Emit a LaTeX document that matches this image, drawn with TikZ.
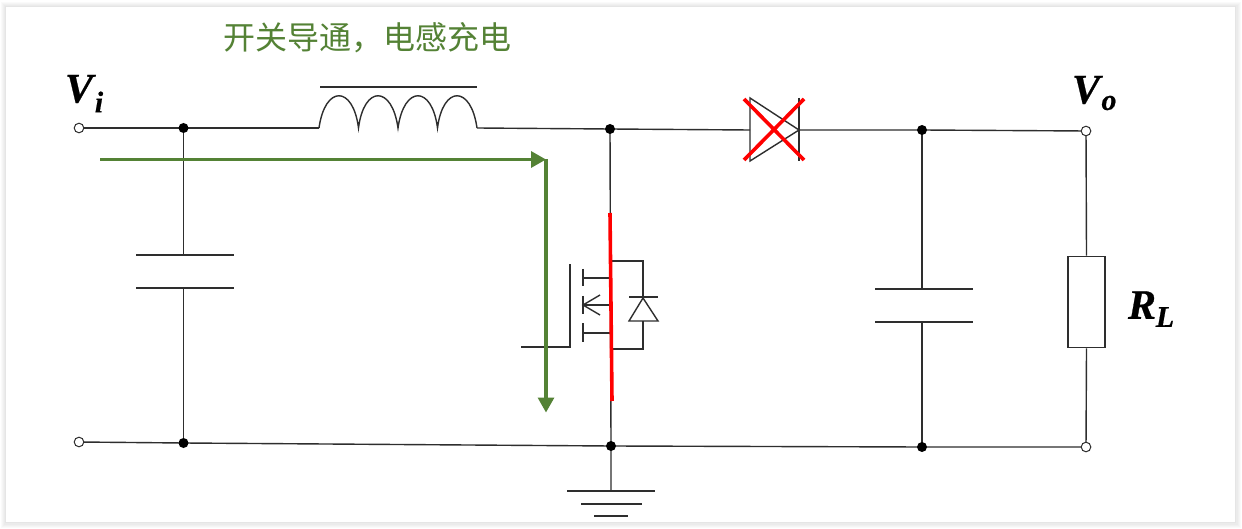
\documentclass[tikz,border=0pt]{standalone}
\usepackage{fontspec}
\setmainfont{Liberation Serif}[BoldItalicFeatures={FakeBold=0.6}]
\newfontfamily\cjkfont{Noto Sans CJK SC}
\usetikzlibrary{arrows.meta}
\definecolor{wire}{HTML}{2E2E2E}
\definecolor{pathgreen}{HTML}{548235}
\definecolor{crossred}{HTML}{FF0000}
\tikzset{
  wireline/.style={draw=wire,line width=0.7pt,line join=miter},
  dotnode/.style={circle,fill=black,inner sep=0pt,minimum size=5pt},
  termnode/.style={circle,draw=wire,fill=white,line width=0.5pt,inner sep=0pt,minimum size=4.8pt},
  platewire/.style={draw=wire,line width=0.75pt},
  redline/.style={draw=crossred,line width=1.8pt},
  greenarrow/.style={draw=pathgreen,line width=1.6pt,-{Triangle[length=7.5pt,width=8pt]}},
  symbolname/.style={font=\bfseries\itshape\fontsize{21}{21}\selectfont,text=black,inner sep=0pt},
  subname/.style={font=\bfseries\itshape\fontsize{15}{15}\selectfont,text=black,inner sep=0pt},
}
\begin{document}
\begin{tikzpicture}[x=0.5pt,y=-0.5pt]
\useasboundingbox (0,0) rectangle (1242,529);
\fill[white] (0,0) rectangle (1242,529);
% soft shadow around the white sheet
\fill[gray!4] (1,2) rectangle (1241,528);
\fill[gray!8] (2,3) rectangle (1240,527);
\fill[gray!12] (3,4) rectangle (1239,526);
\fill[gray!16] (4,5) rectangle (1238,525);
\fill[gray!20] (5,6) rectangle (1236,523);
\fill[white] (6,7) rectangle (1235,522);

% labels
\node[font=\cjkfont\fontsize{16}{16}\selectfont,text=pathgreen,inner sep=0pt] (title) at (367,38) {开关导通，电感充电};
\node[symbolname] (vi) at (79,89) {V};
\node[subname] (visub) at (99,102) {i};
\node[symbolname] (vo) at (1086,90) {V};
\node[subname] (vosub) at (1109,103) {o};
\node[symbolname] (rl) at (1142,305) {R};
\node[subname] (rlsub) at (1165,317) {L};

% junctions and terminals
\coordinate (vin) at (79,128);
\coordinate (vij) at (183.5,128);
\coordinate (lin) at (319,128);
\coordinate (lout) at (477,128);
\coordinate (swj) at (610,129);
\coordinate (dan) at (750,130);
\coordinate (dcat) at (799,130);
\coordinate (coj) at (922,130);
\coordinate (voj) at (1086,131);
\coordinate (gndv) at (79,442);
\coordinate (cibot) at (183.5,443);
\coordinate (swbot) at (611,446);
\coordinate (cobot) at (922,447);
\coordinate (gndo) at (1086,447);
\coordinate (gtop) at (611,491);

% input capacitor
\coordinate (ci1) at (183.5,255);
\coordinate (ci2) at (183.5,288);
\coordinate (ci1l) at (136,255); \coordinate (ci1r) at (234,255);
\coordinate (ci2l) at (136,288); \coordinate (ci2r) at (234,288);
% output capacitor
\coordinate (co1) at (922,289);
\coordinate (co2) at (922,322);
\coordinate (co1l) at (875,289); \coordinate (co1r) at (973,289);
\coordinate (co2l) at (875,322); \coordinate (co2r) at (973,322);

% wires
\draw[wireline] (vin) -- (vij) -- (lin);
\draw[wireline] (lout) -- (swj) -- (dan);
\draw[wireline] (dcat) -- (coj) -- (voj);
\draw[wireline] (gndv) -- (cibot) -- (swbot) -- (cobot) -- (gndo);
\draw[wireline] (vij) -- (ci1);
\draw[wireline] (ci2) -- (cibot);
\draw[wireline] (coj) -- (co1);
\draw[wireline] (co2) -- (cobot);
\draw[wireline] (swj) -- (swbot) -- (gtop);
\draw[platewire] (ci1l) -- (ci1r);
\draw[platewire] (ci2l) -- (ci2r);
\draw[platewire] (co1l) -- (co1r);
\draw[platewire] (co2l) -- (co2r);

% inductor
\draw[wireline] (lin)
  .. controls (325,85) and (353,85) .. (358.5,128)
  .. controls (364,85) and (392,85) .. (398,128)
  .. controls (404,85) and (432,85) .. (437.5,128)
  .. controls (443,85) and (471,85) .. (lout);
\draw[platewire] (320,87) -- (477,87);

% output diode
\draw[wireline] (750,98) -- (750,161) -- (dcat) -- cycle;
\draw[platewire] (799,98) -- (799,161);

% resistor
\node[draw=wire,line width=0.75pt,fill=white,minimum width=18.6pt,minimum height=45.6pt,inner sep=0pt] (rload) at (1086.5,302) {};
\draw[wireline] (voj) -- (rload.north);
\draw[wireline] (rload.south) -- (gndo);

% ground
\draw[platewire] (567,491) -- (655,491);
\draw[platewire] (581,504) -- (642,504);
\draw[platewire] (594,516) -- (628,516);

% MOSFET
\draw[wireline] (521,347) -- (570,347) -- (570,264);
\draw[wireline] (583,269) -- (583,286);
\draw[wireline] (583,296) -- (583,314);
\draw[wireline] (583,323) -- (583,342);
\draw[wireline] (583,278) -- (610,278);
\draw[wireline] (583,305) -- (610,305);
\draw[wireline] (583,333) -- (611,333);
\draw[wireline] (600,295) -- (583,305) -- (600,315);
\draw[wireline] (611,261) -- (643,261) -- (643,297);
\draw[wireline] (643,321) -- (643,349) -- (612,349);
\draw[wireline] (629,297) -- (658,297);
\draw[wireline] (643,298) -- (629,321) -- (658,321) -- cycle;

% red marks
\draw[redline] (610,213) -- (612,401);
\draw[redline] (744,99) -- (804,160);
\draw[redline] (804,99) -- (744,160);

% current path
\coordinate (gstart) at (100,159.5);
\coordinate (gcorner) at (546,159.5);
\coordinate (gend) at (546,412.5);
\draw[greenarrow] (gstart) -- (gcorner);
\draw[greenarrow] (gcorner) -- (gend);

% dots
\foreach \n in {vij,swj,coj,cibot,swbot,cobot}
  \node[dotnode] at (\n) {};
\node[termnode] (tvi) at (vin) {};
\node[termnode] (tvo) at (voj) {};
\node[termnode] (tgi) at (gndv) {};
\node[termnode] (tgo) at (gndo) {};
\end{tikzpicture}
\end{document}
